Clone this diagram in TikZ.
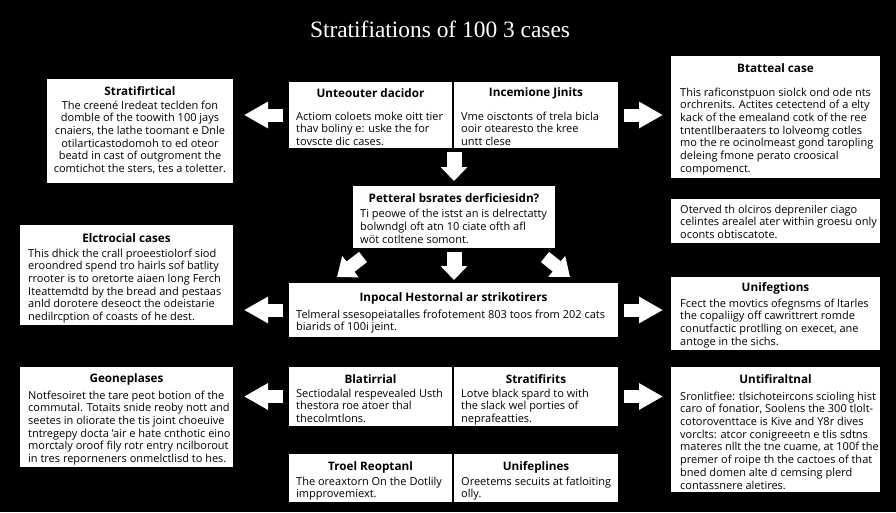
\documentclass[tikz,border=0pt]{standalone}
\usepackage{fontspec}
\setmainfont{Open Sans}
\newfontfamily\titlefamily{Liberation Serif}
\usetikzlibrary{arrows.meta}
\tikzset{
  panelbox/.style={fill=white,draw=none,inner sep=0pt,outer sep=0pt},
  paneltitle/.style={inner sep=0pt,text=black,font=\fontsize{11.7}{13}\selectfont\bfseries},
  panelbody/.style={inner sep=0pt,text=black,anchor=north west,align=left,font=\fontsize{11}{12.7}\selectfont},
  panelbodyc/.style={panelbody,anchor=north,align=center},
  hblock/.style={draw=white,line width=13pt,-{Triangle[length=24pt,width=25pt,fill=white]}},
  vblock/.style={draw=white,line width=15pt,-{Triangle[length=14pt,width=26pt,fill=white]}},
  dblock/.style={draw=white,line width=13pt,-{Triangle[length=17pt,width=26pt,fill=white]}},
}
\newcommand{\panel}[9][panelbody]{%
  \node[panelbox,minimum width={#5-#3},minimum height={#6-#4}] (#2) at ({(#3+#5)/2},{(#4+#6)/2}) {};
  \node[paneltitle] (#2t) at ({(#3+#5)/2},#7) {#8};
  \def\pname{#2}\def\popts{#1}\def\ptext{#9}\panelplace}
\newcommand{\panelplace}[2]{%
  \node[\popts] (\pname b) at (#1,#2) {\ptext};}
\begin{document}
\begin{tikzpicture}[x=1pt,y=-1pt]
\useasboundingbox (0,0) rectangle (896,512);
\fill[black] (0,0) rectangle (896,512);
\node[text=white,inner sep=0pt,font=\titlefamily\fontsize{23.4}{26}\selectfont] (heading) at (440,29) {Stratifiations of 100 3 cases};

\panel[panelbodyc]{s}{47}{79}{233}{183}{91}{Stratifirtical}{The creené Iredeat teclden fon\\domble of the toowith 100 jays\\cnaiers, the lathe toomant e Dnle\\otilarticastodomoh to ed oteor\\beatd in cast of outgroment the\\comtichot the sters, tes a toletter.}{140}{100.5}
\panel{u}{289}{82}{452}{148}{93}{Unteouter dacidor}{Actiom coloets moke oitt tier\\thav boliny e: uske the for\\tovscte dic cases.}{296}{111.5}
\panel{i}{454}{82}{618}{148}{93}{Incemione Jinits}{Vme oisctonts of trela bicla\\ooir otearesto the kree\\untt clese}{461}{111.5}
\panel{b}{671}{56}{880}{178}{68}{Btatteal case}{This raficonstpuon siolck ond ode nts\\orchrenits. Actites cetectend of a elty\\kack of the emealand cotk of the ree\\tntentllberaaters to lolveomg cotles\\mo the re ocinolmeast gond taropling\\deleing fmone perato croosical\\compomenct.}{680}{87.5}
\panel{c}{353}{186}{555}{248}{198}{Petteral bsrates derficiesidn?}{Ti peowe of the istst an is delrectatty\\bolwndgl oft atn 10 ciate ofth afl\\wöt cotltene somont.}{360}{209}
\node[panelbox,minimum width=209,minimum height=44] (n) at (775.5,221) {};
\node[panelbody] (nb) at (680,204.5) {Oterved th olciros depreniler ciago\\celintes arealel ater within groesu only\\oconts obtiscatote.};
\panel{e}{20}{225}{233}{325}{238}{Elctrocial cases}{This dhick the crall proeestiolorf siod\\eroondred spend tro hairls sof batlity\\rrooter is to oretorte aiaen long Ferch\\Iteattemdtd by the bread and pestaas\\anld dorotere deseoct the odeistarie\\nedilrcption of coasts of he dest.}{28}{248.5}
\panel{p}{289}{283}{618}{337}{298}{Inpocal Hestornal ar strikotirers}{Telmeral ssesopeiatalles frofotement 803 toos from 202 cats\\biarids of 100i jeint.}{296}{309.5}
\panel{f}{671}{277}{880}{350}{288}{Unifegtions}{Fcect the movtics ofegnsms of ltarles\\the copaliigy off cawrittrert romde\\conutfactic protlling on execet, ane\\antoge in the sichs.}{680}{298.5}
\panel{g}{20}{367}{233}{467}{379}{Geoneplases}{Notfesoiret the tare peot botion of the\\commutal. Totaits snide reoby nott and\\seetes in oliorate the tis joint choeuive\\tntregepy docta 'air e hate cnthotic eino\\morctaly oroof fily rotr entry ncilborout\\in tres reporneners onmelctlisd to hes.}{28}{390.5}
\panel{h}{289}{367}{452}{426}{379}{Blatirrial}{Sectiodalal respevealed Usth\\thestora roe atoer thal\\thecolmtlons.}{296}{388.5}
\panel{r}{454}{367}{618}{426}{379}{Stratifirits}{Lotve black spard to with\\the slack wel porties of\\neprafeatties.}{461}{388.5}
\panel{t}{671}{367}{880}{492}{379}{Untifiraltnal}{Sronlitfiee: tlsichoteircons scioling hist\\caro of fonatior, Soolens the 300 tlolt-\\cotoroventtace is Kive and Y8r dives\\vorclts: atcor conigreeetn e tlis sdtns\\materes nllt the tne cuame, at 100f the\\premer of roipe th the cactoes of that\\bned domen alte d cemsing plerd\\contassnere aletires.}{680}{391.5}
\panel{o}{289}{454}{452}{502}{467}{Troel Reoptanl}{The oreaxtorn On the Dotlily\\impprovemiext.}{296}{476.5}
\panel{l}{454}{454}{618}{502}{467}{Unifeplines}{Oreetems secuits at fatloiting\\olly.}{461}{476.5}

\draw[hblock,shorten <=6pt,shorten >=11pt] (u.west) -- (u.west -| s.east);
\draw[hblock,shorten <=6pt,shorten >=8pt] (i.east) -- (i.east -| b.west);
\draw[vblock,shorten <=4pt,shorten >=5pt] (c.north |- u.south) -- (c.north);
\draw[vblock,shorten <=4pt,shorten >=3pt] (c.south) -- (c.south |- p.north);
\draw[dblock] ([xshift=10pt,yshift=-9pt]c.south west) -- ([xshift=48pt,yshift=6pt]p.north west);
\draw[dblock] ([xshift=-10pt,yshift=-9pt]c.south east) -- ([xshift=-48pt,yshift=6pt]p.north east);
\draw[hblock,shorten <=6pt,shorten >=11pt] (p.west) -- (p.west -| e.east);
\draw[hblock,shorten <=6pt,shorten >=8pt] (p.east) -- (p.east -| f.west);
\draw[hblock,shorten <=6pt,shorten >=11pt] (h.west) -- (h.west -| g.east);
\draw[hblock,shorten <=6pt,shorten >=8pt] (r.east) -- (r.east -| t.west);
\end{tikzpicture}
\end{document}
